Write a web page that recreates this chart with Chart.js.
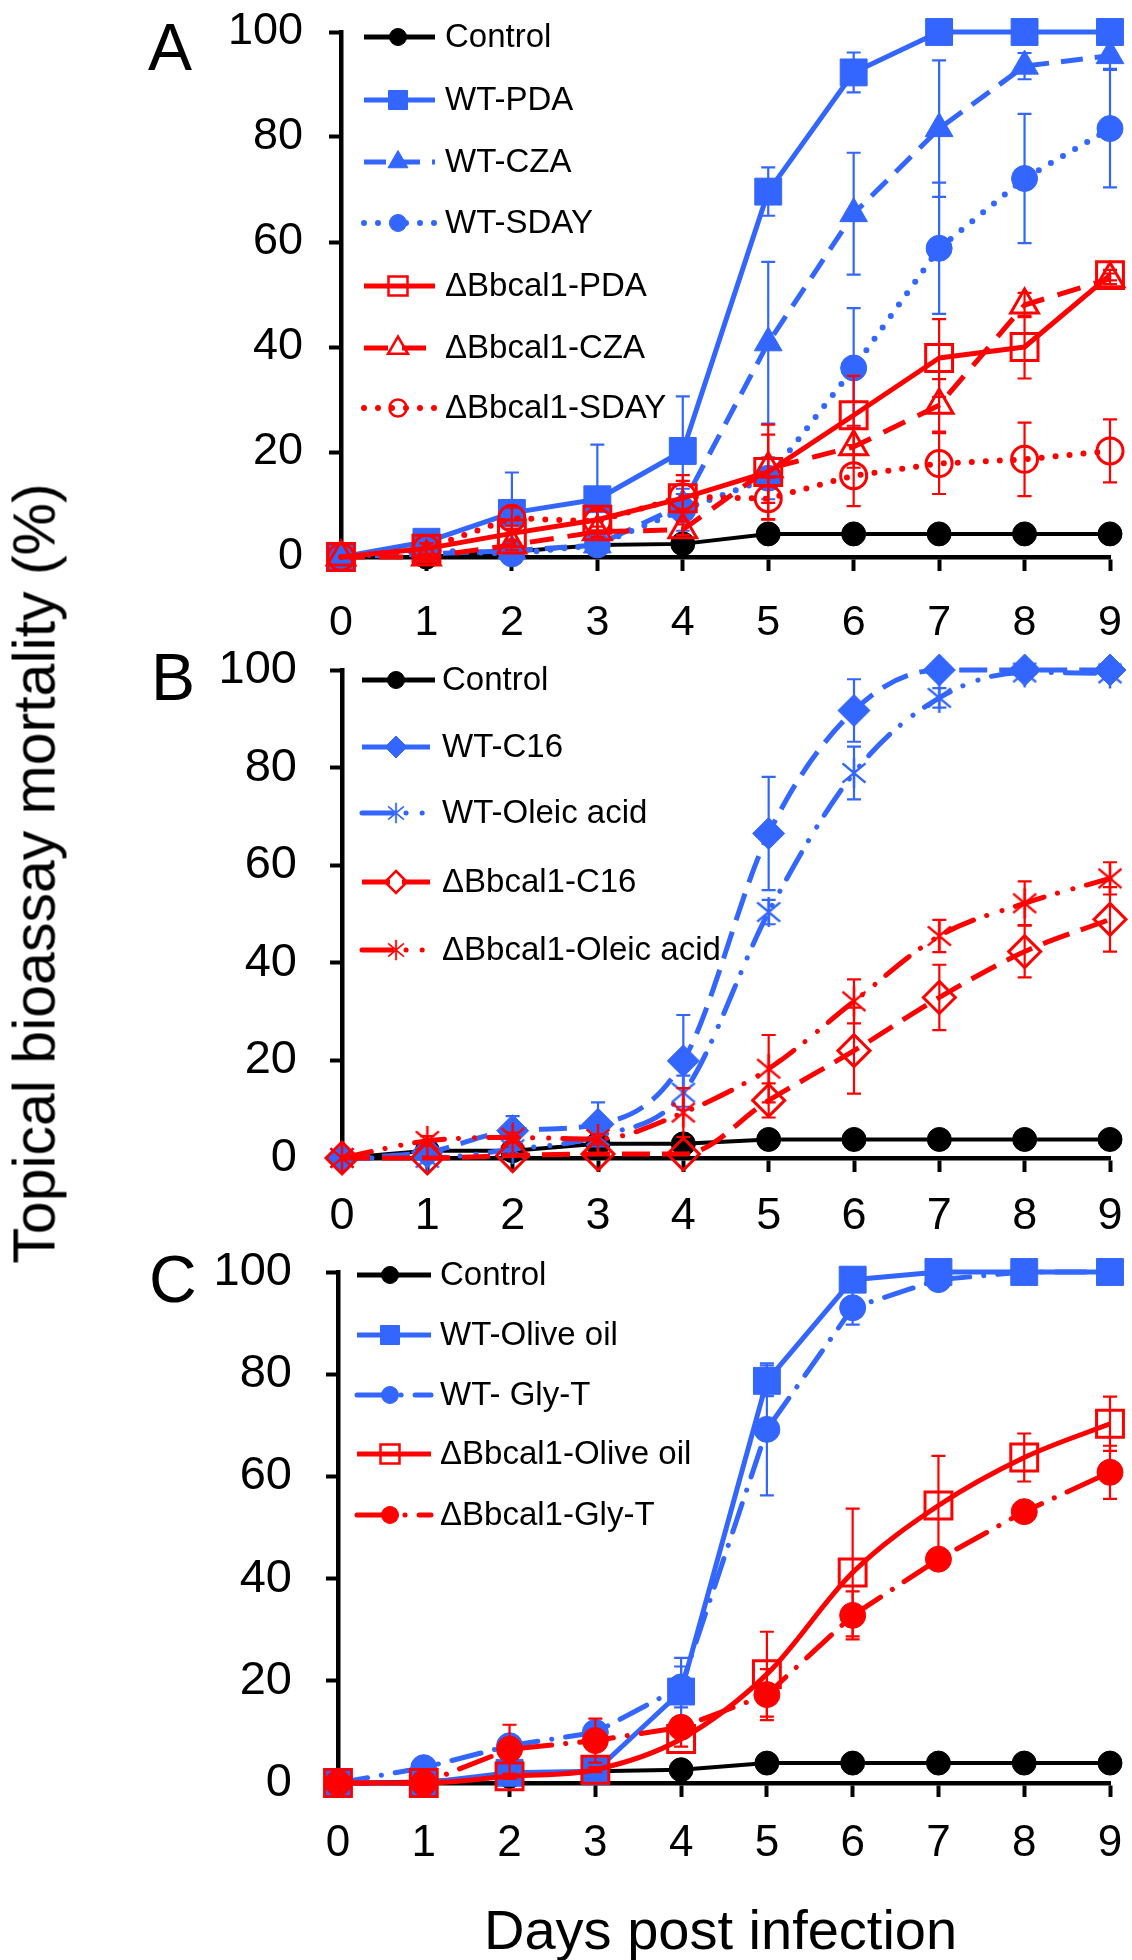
<!DOCTYPE html>
<html>
<head>
<meta charset="utf-8">
<script src="https://cdn.jsdelivr.net/npm/chart.js@4.4.1/dist/chart.umd.min.js"></script>
<style>
html,body{margin:0;padding:0;background:#fff;}
body{width:1132px;height:1960px;position:relative;overflow:hidden;font-family:'Liberation Sans',Arial,sans-serif;}
canvas{position:absolute;left:0;}
.lbl{position:absolute;line-height:1;white-space:nowrap;color:#000;font-family:'Liberation Sans',Arial,sans-serif;}
</style>
</head>
<body>
<canvas id="cA" width="1132" height="660" style="top:0px"></canvas>
<canvas id="cB" width="1132" height="655" style="top:605px"></canvas>
<canvas id="cC" width="1132" height="690" style="top:1205px"></canvas>
<div class="lbl" style="left:148px;top:14px;font-size:66px;">A</div>
<div class="lbl" style="left:151px;top:644px;font-size:66px;">B</div>
<div class="lbl" style="left:149px;top:1246px;font-size:66px;">C</div>
<div class="lbl" style="left:484px;top:1902px;font-size:56px;">Days post infection</div>
<div class="lbl" style="left:-415px;top:844px;width:900px;text-align:center;font-size:59px;transform:rotate(-90deg);">Topical bioassay mortality (%)</div>
<script>
// ---------------- DATA ----------------
const DAYS = ['0','1','2','3','4','5','6','7','8','9'];
const Y_TICKS = [0,20,40,60,80,100];

// Panel A
const A_LABELS = ['Control','WT-PDA','WT-CZA','WT-SDAY','ΔBbcal1-PDA','ΔBbcal1-CZA','ΔBbcal1-SDAY'];
const A_CONTROL      = [0,0,1,2.3,2.5,4.4,4.4,4.4,4.4,4.4];
const A_CONTROL_ERR  = [0,0,0,0,0.5,1,1,1,1,1];
const A_WT_PDA       = [0,2.9,8.4,11,20.2,69.6,92.3,100,100,100];
const A_WT_PDA_ERR   = [0,1.5,7.7,10.4,10.4,4.6,3.8,0,0,0];
const A_WT_CZA       = [0,0.6,1.2,2.3,10,40.8,65.4,81.6,93.5,95.5];
const A_WT_CZA_ERR   = [0,0.5,0.5,1,2,15.4,11.6,13,2.5,2.5];
const A_WT_SDAY      = [0,1.3,0.6,2.3,9,15,36,58.8,72.1,81.6];
const A_WT_SDAY_ERR  = [0,1,1,1,4,4,11.4,12.5,12.3,11.2];
const A_KO_PDA       = [0,1.6,4.5,7.1,11.2,16.2,27,37.9,40,53.7];
const A_KO_PDA_ERR   = [0,1,1.5,2,4.4,9,7.5,7.4,6,1];
const A_KO_CZA       = [0,0,2.3,4.8,5.2,16.8,21,28.9,48,53];
const A_KO_CZA_ERR   = [0,0.5,1,1,1,6.5,4,5,2.3,1];
const A_KO_SDAY      = [0,1.6,7.4,6.8,11.5,11.1,15.5,17.8,18.6,20.2];
const A_KO_SDAY_ERR  = [0,1,2,2,3,4,5.8,5.8,7,6];

// Panel B
const B_LABELS = ['Control','WT-C16','WT-Oleic acid','ΔBbcal1-C16','ΔBbcal1-Oleic acid'];
const B_CONTROL      = [0,1.5,1.5,2.9,2.9,3.8,3.8,3.8,3.8,3.8];
const B_CONTROL_ERR  = [0,0,0,0,0.5,0.5,0.5,0.5,0.5,0.5];
const B_WT_C16       = [0,1.2,5.6,6.9,19.9,66.5,91.7,100,100,100];
const B_WT_C16_ERR   = [0,0.5,3,4.5,9.4,11.6,6.4,0,0,0];
const B_WT_OLEIC     = [0,0,1.8,4.5,13.4,50.4,78.9,94.3,99.5,99.3];
const B_WT_OLEIC_ERR = [0,0.5,1,1.5,3.5,2.5,5.4,2,0.5,0.5];
const B_KO_C16       = [0,0,0.5,0.8,0.8,11.8,22,32.9,42.3,48.9];
const B_KO_C16_ERR   = [0,0,0,0,0,3.5,8.8,6.7,5.3,6.6];
const B_KO_OLEIC     = [0,3.5,4.2,3.9,9.3,18.3,32.1,45.5,52.2,57.3];
const B_KO_OLEIC_ERR = [0,1,1,1,5,6.9,4.5,3.3,4.5,3.3];

// Panel C
const C_LABELS = ['Control','WT-Olive oil','WT- Gly-T','ΔBbcal1-Olive oil','ΔBbcal1-Gly-T'];
const C_CONTROL      = [0,0.3,1.3,2.3,2.6,3.9,3.9,3.9,3.9,3.9];
const C_CONTROL_ERR  = [0,0,0,0,0.5,0.5,0.5,0.5,0.5,0.5];
const C_WT_OLIVE     = [0,0,2,2.3,17.9,78.7,98.5,100,100,100];
const C_WT_OLIVE_ERR = [0,0,0.5,0.5,6.6,3,0.5,0,0,0];
const C_WT_GLY       = [0,3,7.3,9.9,18.8,69.2,93,98.5,100,100];
const C_WT_GLY_ERR   = [0,0.5,1,1.5,4,12.9,3.3,0.5,0,0];
const C_KO_OLIVE     = [0,0,1.3,2.6,8.6,21.3,41.2,54.3,63.7,70.3];
const C_KO_OLIVE_ERR = [0,0,0.5,0.5,1.5,8.3,12.5,9.7,4.7,5.3];
const C_KO_GLY       = [0,0,6.6,8.3,10.9,17.3,32.8,43.8,53.1,60.8];
const C_KO_GLY_ERR   = [0,0.5,4.8,4.3,2,5,4.7,1,1.5,5.2];

// ---------------- STYLE ----------------
const FONT = "'Liberation Sans', Arial, sans-serif";
const BLUE = '#3366FF', RED = '#FF0000', BLACK = '#000000', CLEAR = 'rgba(255,255,255,0)';

function asterisk(color, size, lw) {
  const c = document.createElement('canvas');
  c.width = size; c.height = size;
  const g = c.getContext('2d');
  g.strokeStyle = color; g.lineWidth = lw; g.lineCap = 'butt';
  const m = size / 2, r = size / 2 - 1;
  const a = 40 * Math.PI / 180;
  g.beginPath();
  g.moveTo(m, m - r); g.lineTo(m, m + r);
  g.moveTo(m - r * Math.cos(a), m - r * Math.sin(a)); g.lineTo(m + r * Math.cos(a), m + r * Math.sin(a));
  g.moveTo(m - r * Math.cos(a), m + r * Math.sin(a)); g.lineTo(m + r * Math.cos(a), m - r * Math.sin(a));
  g.stroke();
  return c;
}

function series(label, data, errors, color, opt) {
  return Object.assign({
    label, data, errors,
    borderColor: color, backgroundColor: color,
    borderWidth: 5, borderDash: [], borderCapStyle: 'butt', borderJoinStyle: 'round',
    pointStyle: 'circle', pointRadius: 12,
    pointBackgroundColor: color, pointBorderColor: color, pointBorderWidth: 1,
    tension: 0, clip: false, fill: false
  }, opt || {});
}
const OPEN = { pointBackgroundColor: CLEAR, pointBorderWidth: 3 };
const SMOOTH = { cubicInterpolationMode: 'monotone' };

// ---------------- PLUGINS ----------------
// pins the plot area to the reference geometry
const fixArea = {
  id: 'fixArea',
  afterLayout(chart, args, o) {
    if (!o || o.left === undefined) return;
    const a = chart.chartArea;
    a.left = o.left; a.right = o.right; a.top = o.top; a.bottom = o.bottom;
    a.width = o.right - o.left; a.height = o.bottom - o.top;
    const x = chart.scales.x, y = chart.scales.y;
    const xh = x.height, yw = y.width;
    x.left = o.left; x.right = o.right; x.width = o.right - o.left;
    x.top = o.bottom; x.bottom = o.bottom + xh;
    y.top = o.top; y.bottom = o.bottom; y.height = o.bottom - o.top;
    y.right = o.left; y.left = o.left - yw;
    x.configure(); y.configure();
  }
};

const errorBars = {
  id: 'errorBars',
  beforeDatasetDraw(chart, args) {
    const ds = chart.data.datasets[args.index];
    if (!ds.errors) return;
    const ys = chart.scales.y, ctx = chart.ctx;
    ctx.save();
    ctx.strokeStyle = ds.borderColor; ctx.lineWidth = 2.2; ctx.setLineDash([]); ctx.lineCap = 'butt';
    args.meta.data.forEach((pt, i) => {
      const e = ds.errors[i];
      if (!e) return;
      const v = ds.data[i];
      const yt = ys.getPixelForValue(v + e), yb = ys.getPixelForValue(v - e);
      const x = pt.x, w = 7;
      ctx.beginPath();
      ctx.moveTo(x, yt); ctx.lineTo(x, yb);
      ctx.moveTo(x - w, yt); ctx.lineTo(x + w, yt);
      ctx.moveTo(x - w, yb); ctx.lineTo(x + w, yb);
      ctx.stroke();
    });
    ctx.restore();
  }
};

function drawMarker(ctx, ds, x, y, s) {
  const st = ds.pointStyle;
  ctx.save();
  ctx.setLineDash([]);
  ctx.fillStyle = ds.pointBackgroundColor;
  ctx.strokeStyle = ds.pointBorderColor;
  ctx.lineWidth = ds.pointBorderWidth > 1 ? 2.5 : 1;
  ctx.beginPath();
  if (st instanceof HTMLCanvasElement) {
    const k = s.img;
    ctx.drawImage(st, x - k / 2, y - k / 2, k, k);
    ctx.restore();
    return;
  }
  if (st === 'circle') {
    ctx.arc(x, y, s.circle, 0, Math.PI * 2);
  } else if (st === 'rect') {
    ctx.rect(x - s.rect / 2, y - s.rect / 2, s.rect, s.rect);
  } else if (st === 'triangle') {
    const r = s.tri;
    ctx.moveTo(x, y - r);
    ctx.lineTo(x + r * Math.sin(2 * Math.PI / 3), y - r * Math.cos(2 * Math.PI / 3));
    ctx.lineTo(x + r * Math.sin(4 * Math.PI / 3), y - r * Math.cos(4 * Math.PI / 3));
    ctx.closePath();
  } else if (st === 'rectRot') {
    const r = s.dia;
    ctx.moveTo(x, y - r); ctx.lineTo(x + r, y); ctx.lineTo(x, y + r); ctx.lineTo(x - r, y); ctx.closePath();
  }
  ctx.fill();
  ctx.stroke();
  ctx.restore();
}

const sideLegend = {
  id: 'sideLegend',
  afterDraw(chart, args, o) {
    if (!o || !o.ys) return;
    const ctx = chart.ctx;
    chart.data.datasets.forEach((ds, i) => {
      const y = o.ys[i];
      ctx.save();
      ctx.strokeStyle = ds.borderColor;
      ctx.lineWidth = Math.max(ds.borderWidth, 5);
      ctx.lineCap = ds.borderCapStyle || 'butt';
      ctx.setLineDash(ds.borderDash || []);
      ctx.beginPath(); ctx.moveTo(o.x0, y); ctx.lineTo(o.x1, y); ctx.stroke();
      ctx.restore();
      drawMarker(ctx, ds, o.xm, y, o.size);
      ctx.save();
      ctx.fillStyle = '#000';
      ctx.font = o.font + 'px ' + FONT;
      ctx.textBaseline = 'middle';
      ctx.textAlign = 'left';
      ctx.fillText(ds.label, o.xt, y + 1);
      ctx.restore();
    });
  }
};

function makeScales(c) {
  return {
    x: {
      type: 'category', offset: false,
      grid: { display: true, drawOnChartArea: false, drawTicks: true, tickLength: 14, tickWidth: 4, tickColor: BLACK, offset: false },
      border: { display: true, color: BLACK, width: 4.5 },
      ticks: { autoSkip: false, maxRotation: 0, minRotation: 0, color: BLACK, padding: c.xPad,
               font: { family: FONT, size: c.xFont, lineHeight: 1.2 } },
      afterFit(s) { s.height = c.xH; }
    },
    y: {
      type: 'linear', min: 0, max: 100,
      afterBuildTicks(s) { s.ticks = Y_TICKS.map(v => ({ value: v })); },
      grid: { display: true, drawOnChartArea: false, drawTicks: true, tickLength: 12, tickWidth: 4, tickColor: BLACK },
      border: { display: true, color: BLACK, width: 4.5 },
      ticks: { color: BLACK, padding: c.yPad, font: { family: FONT, size: c.yFont, lineHeight: 1.2 } },
      afterFit(s) { s.width = c.yW; }
    }
  };
}

function makeChart(id, datasets, c, legend) {
  const n = datasets.length;
  datasets.forEach((d, i) => { d.order = n - i; });
  return new Chart(document.getElementById(id), {
    type: 'line',
    data: { labels: DAYS, datasets },
    options: {
      responsive: false, animation: false, events: [],
      devicePixelRatio: 1,
      layout: { autoPadding: false, padding: { top: c.top, right: 1132 - c.right, left: 0, bottom: 0 } },
      scales: makeScales(c),
      plugins: {
        legend: { display: false }, tooltip: { enabled: false },
        sideLegend: legend,
        fixArea: { left: c.yW, right: c.right, top: c.top, bottom: c.bottom }
      }
    },
    plugins: [fixArea, errorBars, sideLegend]
  });
}

const LEG_SIZE = { circle: 8.5, rect: 19, tri: 11.5, dia: 11, img: 22 };

// Panel A
makeChart('cA', [
  series(A_LABELS[0], A_CONTROL, A_CONTROL_ERR, BLACK, { borderWidth: 4, pointRadius: 12 }),
  series(A_LABELS[1], A_WT_PDA, A_WT_PDA_ERR, BLUE, { pointStyle: 'rect', pointRadius: 19 }),
  series(A_LABELS[2], A_WT_CZA, A_WT_CZA_ERR, BLUE, { borderDash: [22, 12], pointStyle: 'triangle', pointRadius: 16 }),
  series(A_LABELS[3], A_WT_SDAY, A_WT_SDAY_ERR, BLUE, { borderWidth: 6, borderDash: [0, 14], borderCapStyle: 'round', pointRadius: 13 }),
  series(A_LABELS[4], A_KO_PDA, A_KO_PDA_ERR, RED, Object.assign({ pointStyle: 'rect', pointRadius: 19 }, OPEN)),
  series(A_LABELS[5], A_KO_CZA, A_KO_CZA_ERR, RED, Object.assign({ borderDash: [24, 14], pointStyle: 'triangle', pointRadius: 16 }, OPEN)),
  series(A_LABELS[6], A_KO_SDAY, A_KO_SDAY_ERR, RED, Object.assign({ borderWidth: 6, borderDash: [0, 14], borderCapStyle: 'round', pointRadius: 13 }, OPEN))
], { top: 32, bottom: 557, right: 1110, yW: 341, xH: 103, xPad: 26, xFont: 43, yPad: 26, yFont: 45 },
   { ys: [37, 100, 162, 223, 286, 348, 408], x0: 364, x1: 435, xm: 398, xt: 445, font: 33, size: LEG_SIZE });

// Panel B
const AST_BLUE = asterisk(BLUE, 32, 2.5), AST_RED = asterisk(RED, 32, 2.5);
makeChart('cB', [
  series(B_LABELS[0], B_CONTROL, B_CONTROL_ERR, BLACK, { borderWidth: 4, pointRadius: 12 }),
  series(B_LABELS[1], B_WT_C16, B_WT_C16_ERR, BLUE, Object.assign({ borderDash: [28, 12], pointStyle: 'rectRot', pointRadius: 16 }, SMOOTH)),
  series(B_LABELS[2], B_WT_OLEIC, B_WT_OLEIC_ERR, BLUE, Object.assign({ borderDash: [30, 14, 0.1, 16, 0.1, 14], borderCapStyle: 'round', pointStyle: AST_BLUE }, SMOOTH)),
  series(B_LABELS[3], B_KO_C16, B_KO_C16_ERR, RED, Object.assign({ borderDash: [28, 12], pointStyle: 'rectRot', pointRadius: 16 }, OPEN, SMOOTH)),
  series(B_LABELS[4], B_KO_OLEIC, B_KO_OLEIC_ERR, RED, Object.assign({ borderDash: [30, 14, 0.1, 16, 0.1, 14], borderCapStyle: 'round', pointStyle: AST_RED }, SMOOTH))
], { top: 65, bottom: 553, right: 1110, yW: 342, xH: 102, xPad: 18, xFont: 45, yPad: 33, yFont: 47 },
   { ys: [75, 142, 208, 277, 345], x0: 362, x1: 435, xm: 396, xt: 442, font: 33, size: LEG_SIZE });

// Panel C
makeChart('cC', [
  series(C_LABELS[0], C_CONTROL, C_CONTROL_ERR, BLACK, { borderWidth: 4, pointRadius: 12 }),
  series(C_LABELS[1], C_WT_OLIVE, C_WT_OLIVE_ERR, BLUE, { pointStyle: 'rect', pointRadius: 19 }),
  series(C_LABELS[2], C_WT_GLY, C_WT_GLY_ERR, BLUE, { borderDash: [30, 14, 0.1, 14], borderCapStyle: 'round', pointRadius: 13 }),
  series(C_LABELS[3], C_KO_OLIVE, C_KO_OLIVE_ERR, RED, Object.assign({ pointStyle: 'rect', pointRadius: 19 }, OPEN, SMOOTH)),
  series(C_LABELS[4], C_KO_GLY, C_KO_GLY_ERR, RED, { borderDash: [34, 14, 0.1, 14], borderCapStyle: 'round', pointRadius: 13 })
], { top: 67, bottom: 578, right: 1110, yW: 338, xH: 112, xPad: 20, xFont: 44, yPad: 34, yFont: 47 },
   { ys: [70, 130, 190, 249, 310], x0: 357, x1: 431, xm: 390, xt: 440, font: 33, size: LEG_SIZE });
</script>
</body>
</html>
